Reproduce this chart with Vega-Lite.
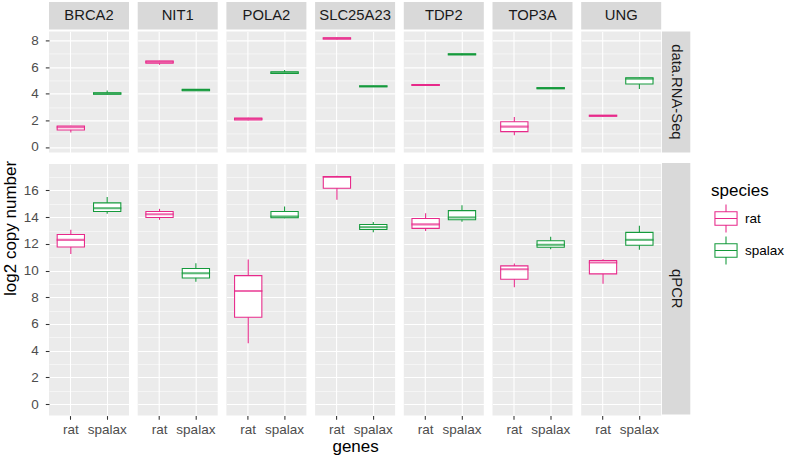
{
"$schema": "https://vega.github.io/schema/vega-lite/v6.json",
"padding": {"left": 1, "top": 2, "right": 2, "bottom": 2},
"title": {"text": "log2 copy number", "orient": "left", "anchor": "middle", "fontSize": 17, "fontWeight": "normal", "color": "#000000", "font": "Liberation Sans", "offset": 3},
"datasets": {
"rna": [
{"gene":"BRCA2","species":"rat","lo":1.08,"q1":1.28,"med":1.48,"q3":1.58,"hi":1.6},
{"gene":"BRCA2","species":"spalax","lo":3.95,"q1":3.97,"med":4.02,"q3":4.08,"hi":4.25},
{"gene":"NIT1","species":"rat","lo":6.18,"q1":6.3,"med":6.4,"q3":6.46,"hi":6.48},
{"gene":"NIT1","species":"spalax","lo":4.2,"q1":4.22,"med":4.28,"q3":4.33,"hi":4.35},
{"gene":"POLA2","species":"rat","lo":2.0,"q1":2.03,"med":2.1,"q3":2.17,"hi":2.2},
{"gene":"POLA2","species":"spalax","lo":5.48,"q1":5.52,"med":5.58,"q3":5.65,"hi":5.78},
{"gene":"SLC25A23","species":"rat","lo":8.08,"q1":8.12,"med":8.16,"q3":8.21,"hi":8.24},
{"gene":"SLC25A23","species":"spalax","lo":4.5,"q1":4.53,"med":4.56,"q3":4.59,"hi":4.6},
{"gene":"TDP2","species":"rat","lo":4.58,"q1":4.62,"med":4.66,"q3":4.7,"hi":4.73},
{"gene":"TDP2","species":"spalax","lo":6.9,"q1":6.93,"med":6.97,"q3":7.0,"hi":7.03},
{"gene":"TOP3A","species":"rat","lo":0.88,"q1":1.15,"med":1.53,"q3":1.9,"hi":2.25},
{"gene":"TOP3A","species":"spalax","lo":4.35,"q1":4.38,"med":4.42,"q3":4.46,"hi":4.48},
{"gene":"UNG","species":"rat","lo":2.28,"q1":2.31,"med":2.35,"q3":2.38,"hi":2.4},
{"gene":"UNG","species":"spalax","lo":4.35,"q1":4.73,"med":5.13,"q3":5.2,"hi":5.22}
],
"qpcr": [
{"gene":"BRCA2","species":"rat","lo":11.25,"q1":11.77,"med":12.3,"q3":12.7,"hi":13.05},
{"gene":"BRCA2","species":"spalax","lo":14.25,"q1":14.42,"med":14.67,"q3":15.07,"hi":15.5},
{"gene":"NIT1","species":"rat","lo":13.8,"q1":13.97,"med":14.22,"q3":14.42,"hi":14.62},
{"gene":"NIT1","species":"spalax","lo":9.17,"q1":9.45,"med":9.8,"q3":10.15,"hi":10.55},
{"gene":"POLA2","species":"rat","lo":4.55,"q1":6.5,"med":8.47,"q3":9.62,"hi":10.82},
{"gene":"POLA2","species":"spalax","lo":13.92,"q1":13.95,"med":14.05,"q3":14.42,"hi":14.8},
{"gene":"SLC25A23","species":"rat","lo":15.3,"q1":16.17,"med":17.0,"q3":17.05,"hi":17.1},
{"gene":"SLC25A23","species":"spalax","lo":12.87,"q1":13.07,"med":13.25,"q3":13.45,"hi":13.64},
{"gene":"TDP2","species":"rat","lo":12.96,"q1":13.16,"med":13.46,"q3":13.9,"hi":14.3},
{"gene":"TDP2","species":"spalax","lo":13.66,"q1":13.81,"med":13.98,"q3":14.49,"hi":14.9},
{"gene":"TOP3A","species":"rat","lo":8.75,"q1":9.35,"med":10.1,"q3":10.35,"hi":10.53},
{"gene":"TOP3A","species":"spalax","lo":11.6,"q1":11.75,"med":11.93,"q3":12.23,"hi":12.53},
{"gene":"UNG","species":"rat","lo":9.02,"q1":9.75,"med":10.6,"q3":10.75,"hi":10.85},
{"gene":"UNG","species":"spalax","lo":11.56,"q1":11.9,"med":12.3,"q3":12.86,"hi":13.36}
]
},
"config": {
"font": "Liberation Sans",
"view": {"stroke": null},
"axis": {"domain": false, "grid": true, "gridColor": "#FFFFFF", "gridWidth": 1.07, "tickColor": "#333333", "tickWidth": 1.07, "tickSize": 3.7, "labelColor": "#4D4D4D", "labelFontSize": 13.5, "labelFont": "Liberation Sans", "labelOverlap": false, "titleFont": "Liberation Sans", "titleFontWeight": "normal", "titleColor": "#000000", "titleFontSize": 17},
"axisX": {"labelAngle": 0, "labelPadding": 3, "bandPosition": 0.5, "titlePadding": 3},
"axisY": {"labelPadding": 7, "tickCount": 40, "format": "d"},
"text": {"font": "Liberation Sans", "fontSize": 14.8, "color": "#1A1A1A"},
"legend": {"orient": "none", "legendX": 662, "legendY": 181, "titleFontSize": 17, "titleFontWeight": "normal", "titleColor": "#000000", "titleFont": "Liberation Sans", "labelFont": "Liberation Sans", "labelFontSize": 13.5, "labelColor": "#000000", "rowPadding": -8, "labelOffset": 4, "titlePadding": 3.5}
},
"hconcat": [
{"vconcat": [
 {"vconcat": [
  {"hconcat": [
   {"width": 80, "height": 27.6, "view": {"fill": "#D9D9D9", "stroke": null}, "data": {"values": [{"label": "BRCA2"}]}, "mark": {"type": "text"}, "encoding": {"text": {"field": "label"}, "y": {"datum": "s", "type": "nominal", "axis": {"title": " ", "titleFontSize": 1, "titlePadding": 0, "minExtent": 25, "maxExtent": 25, "labels": false, "ticks": false, "domain": false, "grid": false}}}},
   {"width": 80, "height": 27.6, "view": {"fill": "#D9D9D9", "stroke": null}, "data": {"values": [{"label": "NIT1"}]}, "mark": {"type": "text"}, "encoding": {"text": {"field": "label"}}},
   {"width": 80, "height": 27.6, "view": {"fill": "#D9D9D9", "stroke": null}, "data": {"values": [{"label": "POLA2"}]}, "mark": {"type": "text"}, "encoding": {"text": {"field": "label"}}},
   {"width": 80, "height": 27.6, "view": {"fill": "#D9D9D9", "stroke": null}, "data": {"values": [{"label": "SLC25A23"}]}, "mark": {"type": "text"}, "encoding": {"text": {"field": "label"}}},
   {"width": 80, "height": 27.6, "view": {"fill": "#D9D9D9", "stroke": null}, "data": {"values": [{"label": "TDP2"}]}, "mark": {"type": "text"}, "encoding": {"text": {"field": "label"}}},
   {"width": 80, "height": 27.6, "view": {"fill": "#D9D9D9", "stroke": null}, "data": {"values": [{"label": "TOP3A"}]}, "mark": {"type": "text"}, "encoding": {"text": {"field": "label"}}},
   {"width": 80, "height": 27.6, "view": {"fill": "#D9D9D9", "stroke": null}, "data": {"values": [{"label": "UNG"}]}, "mark": {"type": "text"}, "encoding": {"text": {"field": "label"}}}
  ], "spacing": 8.7},
  {"hconcat": [
   {"width": 80, "height": 121, "view": {"fill": "#EBEBEB", "stroke": null}, "data": {"name": "rna"}, "transform": [{"filter": "datum.gene === 'BRCA2'"}],
    "encoding": {"x": {"field": "species", "type": "nominal", "scale": {"paddingInner": 0.25, "paddingOuter": 0.225}, "axis": {"labels": false, "ticks": false, "title": null}},
     "stroke": {"field": "species", "type": "nominal", "scale": {"domain": ["rat", "spalax"], "range": ["#E7298A", "#159A3C"]}, "legend": {"title": "species", "symbolType": "M-0.79,-0.48H0.79V0.48H-0.79Z M-0.79,0H0.79 M0,-0.48V-1 M0,0.48V1", "symbolSize": 784, "symbolFillColor": "#FFFFFF", "symbolStrokeWidth": 1.07, "encode": {"symbols": {"update": {"fill": {"value": "#FFFFFF"}, "strokeWidth": {"value": 1.07}, "opacity": {"value": 1}}}}}}},
    "layer": [
     {"mark": {"type": "rule", "strokeWidth": 1.07}, "encoding": {"y": {"field": "lo", "type": "quantitative", "scale": {"domain": [-0.41, 8.69], "nice": false, "zero": false}, "axis": {"title": " ", "titleFontSize": 1, "titlePadding": 0, "minExtent": 25, "maxExtent": 25, "labelOverlap": false, "tickCount": 40, "format": "d", "values": [0,1,2,3,4,5,6,7,8], "labelExpr": "datum.value % 2 === 0 ? datum.label : ''", "tickOpacity": {"condition": {"test": "datum.value % 2 === 1", "value": 0}, "value": 1}, "gridWidth": {"condition": {"test": "datum.value % 2 === 1", "value": 0.53}, "value": 1.07}}}, "y2": {"field": "hi"}}},
     {"mark": {"type": "bar", "filled": false, "fill": "#FFFFFF", "strokeWidth": 1.07}, "encoding": {"y": {"field": "q1", "type": "quantitative"}, "y2": {"field": "q3"}}},
     {"mark": {"type": "tick", "filled": false, "thickness": 1, "strokeWidth": 1.07}, "encoding": {"y": {"field": "med", "type": "quantitative"}}}
    ]},
   {"width": 80, "height": 121, "view": {"fill": "#EBEBEB", "stroke": null}, "data": {"name": "rna"}, "transform": [{"filter": "datum.gene === 'NIT1'"}],
    "encoding": {"x": {"field": "species", "type": "nominal", "scale": {"paddingInner": 0.25, "paddingOuter": 0.225}, "axis": {"labels": false, "ticks": false, "title": null}},
     "stroke": {"field": "species", "type": "nominal", "scale": {"domain": ["rat", "spalax"], "range": ["#E7298A", "#159A3C"]}, "legend": {"title": "species", "symbolType": "M-0.79,-0.48H0.79V0.48H-0.79Z M-0.79,0H0.79 M0,-0.48V-1 M0,0.48V1", "symbolSize": 784, "symbolFillColor": "#FFFFFF", "symbolStrokeWidth": 1.07, "encode": {"symbols": {"update": {"fill": {"value": "#FFFFFF"}, "strokeWidth": {"value": 1.07}, "opacity": {"value": 1}}}}}}},
    "layer": [
     {"mark": {"type": "rule", "strokeWidth": 1.07}, "encoding": {"y": {"field": "lo", "type": "quantitative", "scale": {"domain": [-0.41, 8.69], "nice": false, "zero": false}, "axis": {"title": null, "labels": false, "ticks": false, "minExtent": 0, "tickCount": 40, "values": [0,1,2,3,4,5,6,7,8], "gridWidth": {"condition": {"test": "datum.value % 2 === 1", "value": 0.53}, "value": 1.07}}}, "y2": {"field": "hi"}}},
     {"mark": {"type": "bar", "filled": false, "fill": "#FFFFFF", "strokeWidth": 1.07}, "encoding": {"y": {"field": "q1", "type": "quantitative"}, "y2": {"field": "q3"}}},
     {"mark": {"type": "tick", "filled": false, "thickness": 1, "strokeWidth": 1.07}, "encoding": {"y": {"field": "med", "type": "quantitative"}}}
    ]},
   {"width": 80, "height": 121, "view": {"fill": "#EBEBEB", "stroke": null}, "data": {"name": "rna"}, "transform": [{"filter": "datum.gene === 'POLA2'"}],
    "encoding": {"x": {"field": "species", "type": "nominal", "scale": {"paddingInner": 0.25, "paddingOuter": 0.225}, "axis": {"labels": false, "ticks": false, "title": null}},
     "stroke": {"field": "species", "type": "nominal", "scale": {"domain": ["rat", "spalax"], "range": ["#E7298A", "#159A3C"]}, "legend": {"title": "species", "symbolType": "M-0.79,-0.48H0.79V0.48H-0.79Z M-0.79,0H0.79 M0,-0.48V-1 M0,0.48V1", "symbolSize": 784, "symbolFillColor": "#FFFFFF", "symbolStrokeWidth": 1.07, "encode": {"symbols": {"update": {"fill": {"value": "#FFFFFF"}, "strokeWidth": {"value": 1.07}, "opacity": {"value": 1}}}}}}},
    "layer": [
     {"mark": {"type": "rule", "strokeWidth": 1.07}, "encoding": {"y": {"field": "lo", "type": "quantitative", "scale": {"domain": [-0.41, 8.69], "nice": false, "zero": false}, "axis": {"title": null, "labels": false, "ticks": false, "minExtent": 0, "tickCount": 40, "values": [0,1,2,3,4,5,6,7,8], "gridWidth": {"condition": {"test": "datum.value % 2 === 1", "value": 0.53}, "value": 1.07}}}, "y2": {"field": "hi"}}},
     {"mark": {"type": "bar", "filled": false, "fill": "#FFFFFF", "strokeWidth": 1.07}, "encoding": {"y": {"field": "q1", "type": "quantitative"}, "y2": {"field": "q3"}}},
     {"mark": {"type": "tick", "filled": false, "thickness": 1, "strokeWidth": 1.07}, "encoding": {"y": {"field": "med", "type": "quantitative"}}}
    ]},
   {"width": 80, "height": 121, "view": {"fill": "#EBEBEB", "stroke": null}, "data": {"name": "rna"}, "transform": [{"filter": "datum.gene === 'SLC25A23'"}],
    "encoding": {"x": {"field": "species", "type": "nominal", "scale": {"paddingInner": 0.25, "paddingOuter": 0.225}, "axis": {"labels": false, "ticks": false, "title": null}},
     "stroke": {"field": "species", "type": "nominal", "scale": {"domain": ["rat", "spalax"], "range": ["#E7298A", "#159A3C"]}, "legend": {"title": "species", "symbolType": "M-0.79,-0.48H0.79V0.48H-0.79Z M-0.79,0H0.79 M0,-0.48V-1 M0,0.48V1", "symbolSize": 784, "symbolFillColor": "#FFFFFF", "symbolStrokeWidth": 1.07, "encode": {"symbols": {"update": {"fill": {"value": "#FFFFFF"}, "strokeWidth": {"value": 1.07}, "opacity": {"value": 1}}}}}}},
    "layer": [
     {"mark": {"type": "rule", "strokeWidth": 1.07}, "encoding": {"y": {"field": "lo", "type": "quantitative", "scale": {"domain": [-0.41, 8.69], "nice": false, "zero": false}, "axis": {"title": null, "labels": false, "ticks": false, "minExtent": 0, "tickCount": 40, "values": [0,1,2,3,4,5,6,7,8], "gridWidth": {"condition": {"test": "datum.value % 2 === 1", "value": 0.53}, "value": 1.07}}}, "y2": {"field": "hi"}}},
     {"mark": {"type": "bar", "filled": false, "fill": "#FFFFFF", "strokeWidth": 1.07}, "encoding": {"y": {"field": "q1", "type": "quantitative"}, "y2": {"field": "q3"}}},
     {"mark": {"type": "tick", "filled": false, "thickness": 1, "strokeWidth": 1.07}, "encoding": {"y": {"field": "med", "type": "quantitative"}}}
    ]},
   {"width": 80, "height": 121, "view": {"fill": "#EBEBEB", "stroke": null}, "data": {"name": "rna"}, "transform": [{"filter": "datum.gene === 'TDP2'"}],
    "encoding": {"x": {"field": "species", "type": "nominal", "scale": {"paddingInner": 0.25, "paddingOuter": 0.225}, "axis": {"labels": false, "ticks": false, "title": null}},
     "stroke": {"field": "species", "type": "nominal", "scale": {"domain": ["rat", "spalax"], "range": ["#E7298A", "#159A3C"]}, "legend": {"title": "species", "symbolType": "M-0.79,-0.48H0.79V0.48H-0.79Z M-0.79,0H0.79 M0,-0.48V-1 M0,0.48V1", "symbolSize": 784, "symbolFillColor": "#FFFFFF", "symbolStrokeWidth": 1.07, "encode": {"symbols": {"update": {"fill": {"value": "#FFFFFF"}, "strokeWidth": {"value": 1.07}, "opacity": {"value": 1}}}}}}},
    "layer": [
     {"mark": {"type": "rule", "strokeWidth": 1.07}, "encoding": {"y": {"field": "lo", "type": "quantitative", "scale": {"domain": [-0.41, 8.69], "nice": false, "zero": false}, "axis": {"title": null, "labels": false, "ticks": false, "minExtent": 0, "tickCount": 40, "values": [0,1,2,3,4,5,6,7,8], "gridWidth": {"condition": {"test": "datum.value % 2 === 1", "value": 0.53}, "value": 1.07}}}, "y2": {"field": "hi"}}},
     {"mark": {"type": "bar", "filled": false, "fill": "#FFFFFF", "strokeWidth": 1.07}, "encoding": {"y": {"field": "q1", "type": "quantitative"}, "y2": {"field": "q3"}}},
     {"mark": {"type": "tick", "filled": false, "thickness": 1, "strokeWidth": 1.07}, "encoding": {"y": {"field": "med", "type": "quantitative"}}}
    ]},
   {"width": 80, "height": 121, "view": {"fill": "#EBEBEB", "stroke": null}, "data": {"name": "rna"}, "transform": [{"filter": "datum.gene === 'TOP3A'"}],
    "encoding": {"x": {"field": "species", "type": "nominal", "scale": {"paddingInner": 0.25, "paddingOuter": 0.225}, "axis": {"labels": false, "ticks": false, "title": null}},
     "stroke": {"field": "species", "type": "nominal", "scale": {"domain": ["rat", "spalax"], "range": ["#E7298A", "#159A3C"]}, "legend": {"title": "species", "symbolType": "M-0.79,-0.48H0.79V0.48H-0.79Z M-0.79,0H0.79 M0,-0.48V-1 M0,0.48V1", "symbolSize": 784, "symbolFillColor": "#FFFFFF", "symbolStrokeWidth": 1.07, "encode": {"symbols": {"update": {"fill": {"value": "#FFFFFF"}, "strokeWidth": {"value": 1.07}, "opacity": {"value": 1}}}}}}},
    "layer": [
     {"mark": {"type": "rule", "strokeWidth": 1.07}, "encoding": {"y": {"field": "lo", "type": "quantitative", "scale": {"domain": [-0.41, 8.69], "nice": false, "zero": false}, "axis": {"title": null, "labels": false, "ticks": false, "minExtent": 0, "tickCount": 40, "values": [0,1,2,3,4,5,6,7,8], "gridWidth": {"condition": {"test": "datum.value % 2 === 1", "value": 0.53}, "value": 1.07}}}, "y2": {"field": "hi"}}},
     {"mark": {"type": "bar", "filled": false, "fill": "#FFFFFF", "strokeWidth": 1.07}, "encoding": {"y": {"field": "q1", "type": "quantitative"}, "y2": {"field": "q3"}}},
     {"mark": {"type": "tick", "filled": false, "thickness": 1, "strokeWidth": 1.07}, "encoding": {"y": {"field": "med", "type": "quantitative"}}}
    ]},
   {"width": 80, "height": 121, "view": {"fill": "#EBEBEB", "stroke": null}, "data": {"name": "rna"}, "transform": [{"filter": "datum.gene === 'UNG'"}],
    "encoding": {"x": {"field": "species", "type": "nominal", "scale": {"paddingInner": 0.25, "paddingOuter": 0.225}, "axis": {"labels": false, "ticks": false, "title": null}},
     "stroke": {"field": "species", "type": "nominal", "scale": {"domain": ["rat", "spalax"], "range": ["#E7298A", "#159A3C"]}, "legend": {"title": "species", "symbolType": "M-0.79,-0.48H0.79V0.48H-0.79Z M-0.79,0H0.79 M0,-0.48V-1 M0,0.48V1", "symbolSize": 784, "symbolFillColor": "#FFFFFF", "symbolStrokeWidth": 1.07, "encode": {"symbols": {"update": {"fill": {"value": "#FFFFFF"}, "strokeWidth": {"value": 1.07}, "opacity": {"value": 1}}}}}}},
    "layer": [
     {"mark": {"type": "rule", "strokeWidth": 1.07}, "encoding": {"y": {"field": "lo", "type": "quantitative", "scale": {"domain": [-0.41, 8.69], "nice": false, "zero": false}, "axis": {"title": null, "labels": false, "ticks": false, "minExtent": 0, "tickCount": 40, "values": [0,1,2,3,4,5,6,7,8], "gridWidth": {"condition": {"test": "datum.value % 2 === 1", "value": 0.53}, "value": 1.07}}}, "y2": {"field": "hi"}}},
     {"mark": {"type": "bar", "filled": false, "fill": "#FFFFFF", "strokeWidth": 1.07}, "encoding": {"y": {"field": "q1", "type": "quantitative"}, "y2": {"field": "q3"}}},
     {"mark": {"type": "tick", "filled": false, "thickness": 1, "strokeWidth": 1.07}, "encoding": {"y": {"field": "med", "type": "quantitative"}}}
    ]}
  ], "spacing": 8.7}
 ], "spacing": 1.4},
 {"hconcat": [
   {"width": 80, "height": 251.6, "view": {"fill": "#EBEBEB", "stroke": null}, "data": {"name": "qpcr"}, "transform": [{"filter": "datum.gene === 'BRCA2'"}],
    "encoding": {"x": {"field": "species", "type": "nominal", "scale": {"paddingInner": 0.25, "paddingOuter": 0.225}, "axis": {"title": null}},
     "stroke": {"field": "species", "type": "nominal", "scale": {"domain": ["rat", "spalax"], "range": ["#E7298A", "#159A3C"]}, "legend": {"title": "species", "symbolType": "M-0.79,-0.48H0.79V0.48H-0.79Z M-0.79,0H0.79 M0,-0.48V-1 M0,0.48V1", "symbolSize": 784, "symbolFillColor": "#FFFFFF", "symbolStrokeWidth": 1.07, "encode": {"symbols": {"update": {"fill": {"value": "#FFFFFF"}, "strokeWidth": {"value": 1.07}, "opacity": {"value": 1}}}}}}},
    "layer": [
     {"mark": {"type": "rule", "strokeWidth": 1.07}, "encoding": {"y": {"field": "lo", "type": "quantitative", "scale": {"domain": [-0.86, 17.98], "nice": false, "zero": false}, "axis": {"title": " ", "titleFontSize": 1, "titlePadding": 0, "minExtent": 25, "maxExtent": 25, "labelOverlap": false, "tickCount": 40, "format": "d", "values": [0,1,2,3,4,5,6,7,8,9,10,11,12,13,14,15,16,17], "labelExpr": "datum.value % 2 === 0 ? datum.label : ''", "tickOpacity": {"condition": {"test": "datum.value % 2 === 1", "value": 0}, "value": 1}, "gridWidth": {"condition": {"test": "datum.value % 2 === 1", "value": 0.53}, "value": 1.07}}}, "y2": {"field": "hi"}}},
     {"mark": {"type": "bar", "filled": false, "fill": "#FFFFFF", "strokeWidth": 1.07}, "encoding": {"y": {"field": "q1", "type": "quantitative"}, "y2": {"field": "q3"}}},
     {"mark": {"type": "tick", "filled": false, "thickness": 1, "strokeWidth": 1.07}, "encoding": {"y": {"field": "med", "type": "quantitative"}}}
    ]},
   {"width": 80, "height": 251.6, "view": {"fill": "#EBEBEB", "stroke": null}, "data": {"name": "qpcr"}, "transform": [{"filter": "datum.gene === 'NIT1'"}],
    "encoding": {"x": {"field": "species", "type": "nominal", "scale": {"paddingInner": 0.25, "paddingOuter": 0.225}, "axis": {"title": null}},
     "stroke": {"field": "species", "type": "nominal", "scale": {"domain": ["rat", "spalax"], "range": ["#E7298A", "#159A3C"]}, "legend": {"title": "species", "symbolType": "M-0.79,-0.48H0.79V0.48H-0.79Z M-0.79,0H0.79 M0,-0.48V-1 M0,0.48V1", "symbolSize": 784, "symbolFillColor": "#FFFFFF", "symbolStrokeWidth": 1.07, "encode": {"symbols": {"update": {"fill": {"value": "#FFFFFF"}, "strokeWidth": {"value": 1.07}, "opacity": {"value": 1}}}}}}},
    "layer": [
     {"mark": {"type": "rule", "strokeWidth": 1.07}, "encoding": {"y": {"field": "lo", "type": "quantitative", "scale": {"domain": [-0.86, 17.98], "nice": false, "zero": false}, "axis": {"title": null, "labels": false, "ticks": false, "minExtent": 0, "tickCount": 40, "values": [0,1,2,3,4,5,6,7,8,9,10,11,12,13,14,15,16,17], "gridWidth": {"condition": {"test": "datum.value % 2 === 1", "value": 0.53}, "value": 1.07}}}, "y2": {"field": "hi"}}},
     {"mark": {"type": "bar", "filled": false, "fill": "#FFFFFF", "strokeWidth": 1.07}, "encoding": {"y": {"field": "q1", "type": "quantitative"}, "y2": {"field": "q3"}}},
     {"mark": {"type": "tick", "filled": false, "thickness": 1, "strokeWidth": 1.07}, "encoding": {"y": {"field": "med", "type": "quantitative"}}}
    ]},
   {"width": 80, "height": 251.6, "view": {"fill": "#EBEBEB", "stroke": null}, "data": {"name": "qpcr"}, "transform": [{"filter": "datum.gene === 'POLA2'"}],
    "encoding": {"x": {"field": "species", "type": "nominal", "scale": {"paddingInner": 0.25, "paddingOuter": 0.225}, "axis": {"title": null}},
     "stroke": {"field": "species", "type": "nominal", "scale": {"domain": ["rat", "spalax"], "range": ["#E7298A", "#159A3C"]}, "legend": {"title": "species", "symbolType": "M-0.79,-0.48H0.79V0.48H-0.79Z M-0.79,0H0.79 M0,-0.48V-1 M0,0.48V1", "symbolSize": 784, "symbolFillColor": "#FFFFFF", "symbolStrokeWidth": 1.07, "encode": {"symbols": {"update": {"fill": {"value": "#FFFFFF"}, "strokeWidth": {"value": 1.07}, "opacity": {"value": 1}}}}}}},
    "layer": [
     {"mark": {"type": "rule", "strokeWidth": 1.07}, "encoding": {"y": {"field": "lo", "type": "quantitative", "scale": {"domain": [-0.86, 17.98], "nice": false, "zero": false}, "axis": {"title": null, "labels": false, "ticks": false, "minExtent": 0, "tickCount": 40, "values": [0,1,2,3,4,5,6,7,8,9,10,11,12,13,14,15,16,17], "gridWidth": {"condition": {"test": "datum.value % 2 === 1", "value": 0.53}, "value": 1.07}}}, "y2": {"field": "hi"}}},
     {"mark": {"type": "bar", "filled": false, "fill": "#FFFFFF", "strokeWidth": 1.07}, "encoding": {"y": {"field": "q1", "type": "quantitative"}, "y2": {"field": "q3"}}},
     {"mark": {"type": "tick", "filled": false, "thickness": 1, "strokeWidth": 1.07}, "encoding": {"y": {"field": "med", "type": "quantitative"}}}
    ]},
   {"width": 80, "height": 251.6, "view": {"fill": "#EBEBEB", "stroke": null}, "data": {"name": "qpcr"}, "transform": [{"filter": "datum.gene === 'SLC25A23'"}],
    "encoding": {"x": {"field": "species", "type": "nominal", "scale": {"paddingInner": 0.25, "paddingOuter": 0.225}, "axis": {"title": "genes"}},
     "stroke": {"field": "species", "type": "nominal", "scale": {"domain": ["rat", "spalax"], "range": ["#E7298A", "#159A3C"]}, "legend": {"title": "species", "symbolType": "M-0.79,-0.48H0.79V0.48H-0.79Z M-0.79,0H0.79 M0,-0.48V-1 M0,0.48V1", "symbolSize": 784, "symbolFillColor": "#FFFFFF", "symbolStrokeWidth": 1.07, "encode": {"symbols": {"update": {"fill": {"value": "#FFFFFF"}, "strokeWidth": {"value": 1.07}, "opacity": {"value": 1}}}}}}},
    "layer": [
     {"mark": {"type": "rule", "strokeWidth": 1.07}, "encoding": {"y": {"field": "lo", "type": "quantitative", "scale": {"domain": [-0.86, 17.98], "nice": false, "zero": false}, "axis": {"title": null, "labels": false, "ticks": false, "minExtent": 0, "tickCount": 40, "values": [0,1,2,3,4,5,6,7,8,9,10,11,12,13,14,15,16,17], "gridWidth": {"condition": {"test": "datum.value % 2 === 1", "value": 0.53}, "value": 1.07}}}, "y2": {"field": "hi"}}},
     {"mark": {"type": "bar", "filled": false, "fill": "#FFFFFF", "strokeWidth": 1.07}, "encoding": {"y": {"field": "q1", "type": "quantitative"}, "y2": {"field": "q3"}}},
     {"mark": {"type": "tick", "filled": false, "thickness": 1, "strokeWidth": 1.07}, "encoding": {"y": {"field": "med", "type": "quantitative"}}}
    ]},
   {"width": 80, "height": 251.6, "view": {"fill": "#EBEBEB", "stroke": null}, "data": {"name": "qpcr"}, "transform": [{"filter": "datum.gene === 'TDP2'"}],
    "encoding": {"x": {"field": "species", "type": "nominal", "scale": {"paddingInner": 0.25, "paddingOuter": 0.225}, "axis": {"title": null}},
     "stroke": {"field": "species", "type": "nominal", "scale": {"domain": ["rat", "spalax"], "range": ["#E7298A", "#159A3C"]}, "legend": {"title": "species", "symbolType": "M-0.79,-0.48H0.79V0.48H-0.79Z M-0.79,0H0.79 M0,-0.48V-1 M0,0.48V1", "symbolSize": 784, "symbolFillColor": "#FFFFFF", "symbolStrokeWidth": 1.07, "encode": {"symbols": {"update": {"fill": {"value": "#FFFFFF"}, "strokeWidth": {"value": 1.07}, "opacity": {"value": 1}}}}}}},
    "layer": [
     {"mark": {"type": "rule", "strokeWidth": 1.07}, "encoding": {"y": {"field": "lo", "type": "quantitative", "scale": {"domain": [-0.86, 17.98], "nice": false, "zero": false}, "axis": {"title": null, "labels": false, "ticks": false, "minExtent": 0, "tickCount": 40, "values": [0,1,2,3,4,5,6,7,8,9,10,11,12,13,14,15,16,17], "gridWidth": {"condition": {"test": "datum.value % 2 === 1", "value": 0.53}, "value": 1.07}}}, "y2": {"field": "hi"}}},
     {"mark": {"type": "bar", "filled": false, "fill": "#FFFFFF", "strokeWidth": 1.07}, "encoding": {"y": {"field": "q1", "type": "quantitative"}, "y2": {"field": "q3"}}},
     {"mark": {"type": "tick", "filled": false, "thickness": 1, "strokeWidth": 1.07}, "encoding": {"y": {"field": "med", "type": "quantitative"}}}
    ]},
   {"width": 80, "height": 251.6, "view": {"fill": "#EBEBEB", "stroke": null}, "data": {"name": "qpcr"}, "transform": [{"filter": "datum.gene === 'TOP3A'"}],
    "encoding": {"x": {"field": "species", "type": "nominal", "scale": {"paddingInner": 0.25, "paddingOuter": 0.225}, "axis": {"title": null}},
     "stroke": {"field": "species", "type": "nominal", "scale": {"domain": ["rat", "spalax"], "range": ["#E7298A", "#159A3C"]}, "legend": {"title": "species", "symbolType": "M-0.79,-0.48H0.79V0.48H-0.79Z M-0.79,0H0.79 M0,-0.48V-1 M0,0.48V1", "symbolSize": 784, "symbolFillColor": "#FFFFFF", "symbolStrokeWidth": 1.07, "encode": {"symbols": {"update": {"fill": {"value": "#FFFFFF"}, "strokeWidth": {"value": 1.07}, "opacity": {"value": 1}}}}}}},
    "layer": [
     {"mark": {"type": "rule", "strokeWidth": 1.07}, "encoding": {"y": {"field": "lo", "type": "quantitative", "scale": {"domain": [-0.86, 17.98], "nice": false, "zero": false}, "axis": {"title": null, "labels": false, "ticks": false, "minExtent": 0, "tickCount": 40, "values": [0,1,2,3,4,5,6,7,8,9,10,11,12,13,14,15,16,17], "gridWidth": {"condition": {"test": "datum.value % 2 === 1", "value": 0.53}, "value": 1.07}}}, "y2": {"field": "hi"}}},
     {"mark": {"type": "bar", "filled": false, "fill": "#FFFFFF", "strokeWidth": 1.07}, "encoding": {"y": {"field": "q1", "type": "quantitative"}, "y2": {"field": "q3"}}},
     {"mark": {"type": "tick", "filled": false, "thickness": 1, "strokeWidth": 1.07}, "encoding": {"y": {"field": "med", "type": "quantitative"}}}
    ]},
   {"width": 80, "height": 251.6, "view": {"fill": "#EBEBEB", "stroke": null}, "data": {"name": "qpcr"}, "transform": [{"filter": "datum.gene === 'UNG'"}],
    "encoding": {"x": {"field": "species", "type": "nominal", "scale": {"paddingInner": 0.25, "paddingOuter": 0.225}, "axis": {"title": null}},
     "stroke": {"field": "species", "type": "nominal", "scale": {"domain": ["rat", "spalax"], "range": ["#E7298A", "#159A3C"]}, "legend": {"title": "species", "symbolType": "M-0.79,-0.48H0.79V0.48H-0.79Z M-0.79,0H0.79 M0,-0.48V-1 M0,0.48V1", "symbolSize": 784, "symbolFillColor": "#FFFFFF", "symbolStrokeWidth": 1.07, "encode": {"symbols": {"update": {"fill": {"value": "#FFFFFF"}, "strokeWidth": {"value": 1.07}, "opacity": {"value": 1}}}}}}},
    "layer": [
     {"mark": {"type": "rule", "strokeWidth": 1.07}, "encoding": {"y": {"field": "lo", "type": "quantitative", "scale": {"domain": [-0.86, 17.98], "nice": false, "zero": false}, "axis": {"title": null, "labels": false, "ticks": false, "minExtent": 0, "tickCount": 40, "values": [0,1,2,3,4,5,6,7,8,9,10,11,12,13,14,15,16,17], "gridWidth": {"condition": {"test": "datum.value % 2 === 1", "value": 0.53}, "value": 1.07}}}, "y2": {"field": "hi"}}},
     {"mark": {"type": "bar", "filled": false, "fill": "#FFFFFF", "strokeWidth": 1.07}, "encoding": {"y": {"field": "q1", "type": "quantitative"}, "y2": {"field": "q3"}}},
     {"mark": {"type": "tick", "filled": false, "thickness": 1, "strokeWidth": 1.07}, "encoding": {"y": {"field": "med", "type": "quantitative"}}}
    ]}
 ], "spacing": 8.7}
], "spacing": 10},
{"vconcat": [
 {"vconcat": [
  {"width": 28.3, "height": 27.6, "data": {"values": []}, "mark": {"type": "point", "opacity": 0}},
  {"width": 28.3, "height": 121, "view": {"fill": "#D9D9D9", "stroke": null}, "data": {"values": [{"label": "data.RNA-Seq"}]}, "mark": {"type": "text", "angle": 90}, "encoding": {"text": {"field": "label"}}}
 ], "spacing": 1.4},
 {"width": 28.3, "height": 251.6, "view": {"fill": "#D9D9D9", "stroke": null}, "data": {"values": [{"label": "qPCR"}]}, "mark": {"type": "text", "angle": 90}, "encoding": {"text": {"field": "label"}}}
], "spacing": 10}
],
"spacing": 0
}
